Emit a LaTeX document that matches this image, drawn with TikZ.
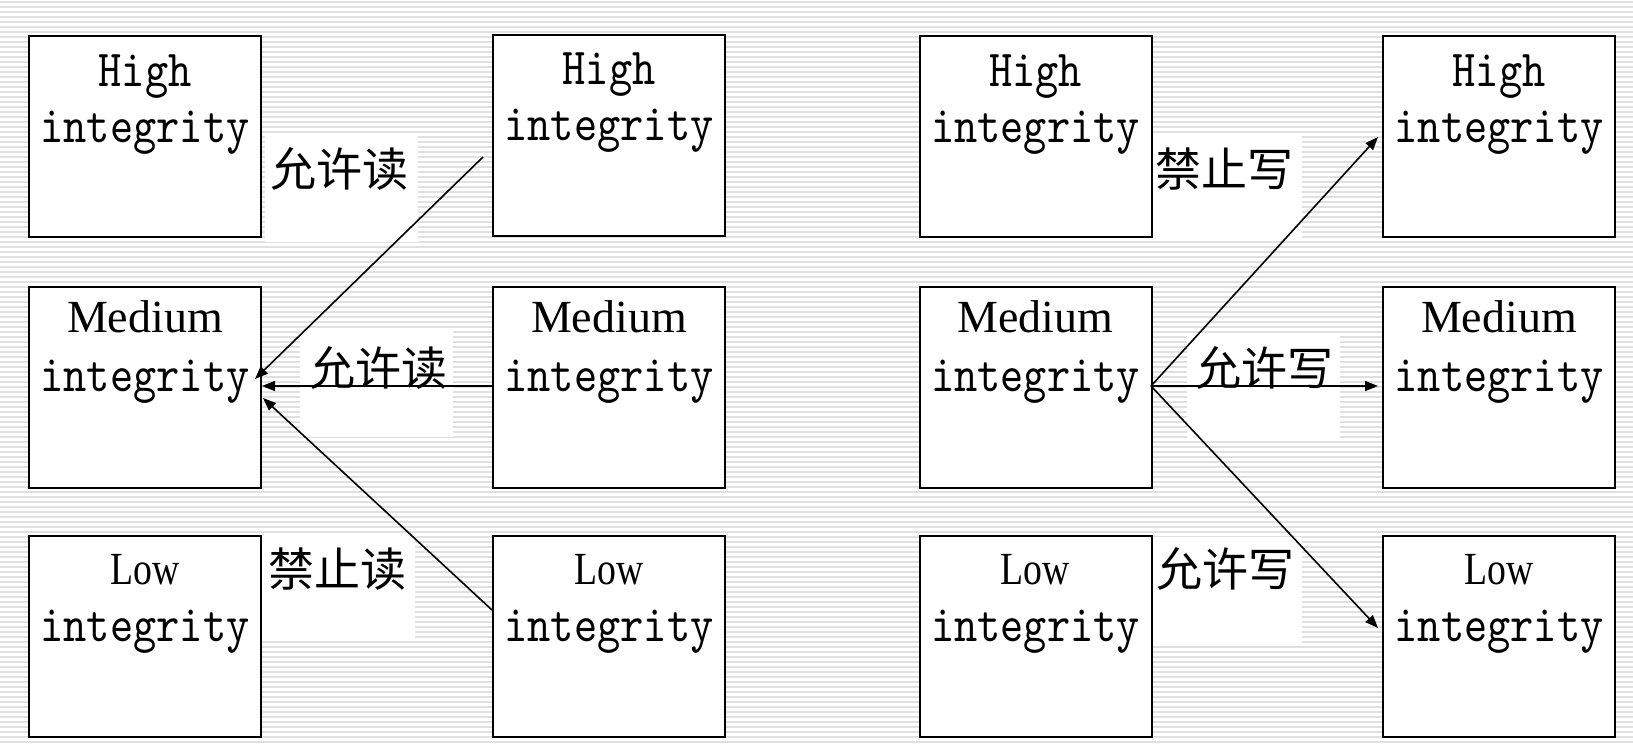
\documentclass[tikz,border=0pt]{standalone}
\usepackage{fontspec}
\setmainfont{Liberation Serif}
\newfontfamily\monof{lmmono10-regular.otf}[FakeStretch=0.85]
\newfontfamily\cjk{Noto Sans CJK SC}
\usetikzlibrary{arrows.meta,calc}
\begin{document}
\begin{tikzpicture}[x=0.5pt,y=-0.5pt,
  stripe/.style={draw=black!12, line width=1pt},
  box/.style={draw=black, line width=1pt, fill=white, minimum width=116pt, minimum height=100.5pt, inner sep=0pt},
  lbox/.style={fill=white, draw=none, inner sep=0pt, minimum width=76.5pt, minimum height=53.5pt},
  mt/.style={anchor=base, inner sep=0pt, font=\monof\fontsize{26pt}{30pt}\selectfont},
  st/.style={anchor=base, inner sep=0pt, font=\fontsize{23pt}{27pt}\selectfont},
  ct/.style={inner sep=0pt, font=\cjk\fontsize{23pt}{27pt}\selectfont},
  arr/.style={line width=0.8pt, -{Triangle[length=6.5pt,width=5pt]}}
]
\useasboundingbox (0,0) rectangle (1633,746);
\fill[white] (0,0) rectangle (1633,746);
\foreach \yy in {2,7,...,746} \draw[stripe] (0,\yy) -- (1633,\yy);

% white label backgrounds
\node[lbox] (lb1) at (341,188.5) {};
\node[lbox] (lb2) at (376,383.5) {};
\node[lbox] (lb3) at (338.5,586.5) {};
\node[lbox] (rb1) at (1225.5,186.5) {};
\node[lbox] (rb2) at (1263.5,386.5) {};
\node[lbox] (rb3) at (1225.5,590.5) {};

% boxes
\node[box] (L1) at (145,136.5) {};
\node[box] (L2) at (145,387.5) {};
\node[box] (L3) at (145,636.5) {};
\node[box] (M1) at (609,135) {};
\node[box] (M2) at (609,387.5) {};
\node[box] (M3) at (609,636.5) {};
\node[box] (N1) at (1035.5,136.5) {};
\node[box] (N2) at (1035.5,387.5) {};
\node[box] (N3) at (1035.5,636.5) {};
\node[box] (R1) at (1499,136.5) {};
\node[box] (R2) at (1499,387.5) {};
\node[box] (R3) at (1499,636.5) {};

% connector end points
\coordinate (pa) at (483,157);
\coordinate (qa) at (255,379);
\coordinate (pb) at (492,386);
\coordinate (qb) at (262,386);
\coordinate (pc) at (492,610);
\coordinate (qc) at (263,398);
\coordinate (ps) at (1151,386);
\coordinate (qd) at (1378,137);
\coordinate (qe) at (1378,386);
\coordinate (qf) at (1378,628);

\draw[arr] (pa) -- (qa);
\draw[arr] (pb) -- (qb);
\draw[arr] (pc) -- (qc);
\draw[arr] (ps) -- (qd);
\draw[arr] (ps) -- (qe);
\draw[arr] (ps) -- (qf);

% box texts
\foreach \b in {L,M,N,R}{
  \node[mt] (\b1a) at ($(\b1.north)+(0,51)$) {High};
  \node[mt] (\b1b) at ($(\b1.north)+(0,107)$) {integrity};
  \node[st] (\b2a) at ($(\b2.north)+(0,46)$) {Medium};
  \node[mt] (\b2b) at ($(\b2.north)+(0,105)$) {integrity};
  \node[st] (\b3a) at ($(\b3.north)+(0,49)$) {\scalebox{0.82}[1]{Low}};
  \node[mt] (\b3b) at ($(\b3.north)+(0,106)$) {integrity};
}

% labels
\node[ct] (t1) at (339.5,168.5) {允许读};
\node[ct] (t2) at (378.5,368) {允许读};
\node[ct] (t3) at (337.5,569) {禁止读};
\node[ct] (t4) at (1224.5,169) {禁止写};
\node[ct] (t5) at (1264,368) {允许写};
\node[ct] (t6) at (1225,569) {允许写};
\end{tikzpicture}
\end{document}
